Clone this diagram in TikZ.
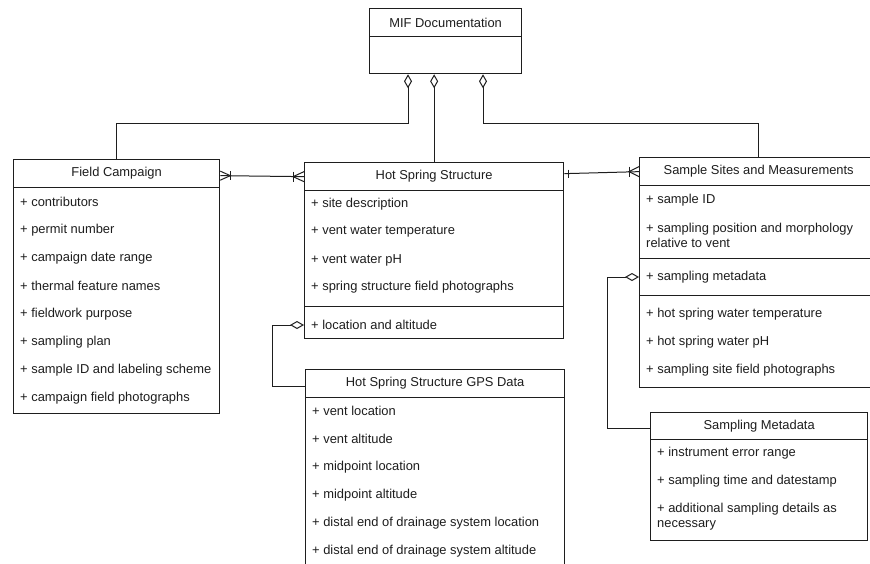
\documentclass[tikz,border=0pt]{standalone}
\usepackage{fontspec}
\setmainfont{Liberation Sans}
\usetikzlibrary{arrows.meta,calc}
\definecolor{lc}{HTML}{1E1E1E}
\definecolor{tc}{HTML}{1E1E1E}
\newcommand\dfont{\fontsize{12.9}{15}\selectfont}
\begin{document}
\begin{tikzpicture}[x=1pt,y=-1pt,
  box/.style={draw=lc, line width=1.3pt, inner sep=0pt, anchor=north west},
  hdr/.style={box, font=\dfont, text=tc},
  item/.style={anchor=west, inner sep=0pt, font=\dfont, text=tc, align=left},
  conn/.style={draw=lc, line width=1pt},
  agg/.style={conn, {Diamond[open, length=14pt, width=8pt]}-},
]
\fill[white] (0,0) rectangle (870,563);
\useasboundingbox (0,0) rectangle (870,563);

% MIF Documentation
\node[hdr, minimum width=152pt, minimum height=28pt] (mifh) at (369,8) {MIF Documentation};
\node[box, minimum width=152pt, minimum height=37pt] (mifb) at (369,36) {};

% Field Campaign
\node[hdr, minimum width=206pt, minimum height=28pt] (fch) at (13,159) {Field Campaign};
\node[box, minimum width=206pt, minimum height=226pt] (fcb) at (13,187) {};
\node[item] (fc1) at (20,202) {+ contributors};
\node[item] (fc2) at (20,230) {+ permit number};
\node[item] (fc3) at (20,258) {+ campaign date range};
\node[item] (fc4) at (20,286) {+ thermal feature names};
\node[item] (fc5) at (20,314) {+ fieldwork purpose};
\node[item] (fc6) at (20,342) {+ sampling plan};
\node[item] (fc7) at (20,370) {+ sample ID and labeling scheme};
\node[item] (fc8) at (20,398) {+ campaign field photographs};

% Hot Spring Structure
\node[hdr, minimum width=259pt, minimum height=28pt] (hsh) at (304,162) {Hot Spring Structure};
\node[box, minimum width=259pt, minimum height=116pt] (hsb1) at (304,190) {};
\node[box, minimum width=259pt, minimum height=32pt] (hsb2) at (304,306) {};
\node[item] (hs1) at (311,204) {+ site description};
\node[item] (hs2) at (311,232) {+ vent water temperature};
\node[item] (hs3) at (311,260) {+ vent water pH};
\node[item] (hs4) at (311,287) {+ spring structure field photographs};
\node[item] (hsloc) at (311,325) {+ location and altitude};

% Hot Spring Structure GPS Data
\node[hdr, minimum width=259pt, minimum height=28pt] (gpsh) at (305,369) {Hot Spring Structure GPS Data};
\node[box, minimum width=259pt, minimum height=200pt] (gpsb) at (305,397) {};
\node[item] (g1) at (312,411) {+ vent location};
\node[item] (g2) at (312,439) {+ vent altitude};
\node[item] (g3) at (312,467) {+ midpoint location};
\node[item] (g4) at (312,495) {+ midpoint altitude};
\node[item] (g5) at (312,523) {+ distal end of drainage system location};
\node[item] (g6) at (312,551) {+ distal end of drainage system altitude};

% Sample Sites and Measurements
\node[hdr, minimum width=238pt, minimum height=28pt] (ssh) at (639,157) {Sample Sites and Measurements};
\node[box, minimum width=238pt, minimum height=73pt] (ssb1) at (639,185) {};
\node[box, minimum width=238pt, minimum height=37pt] (ssb2) at (639,258) {};
\node[box, minimum width=238pt, minimum height=92pt] (ssb3) at (639,295) {};
\node[item] (s1) at (646,200) {+ sample ID};
\node[item] (s2) at (646,235.5) {+ sampling position and morphology\\relative to vent};
\node[item] (smeta) at (646,277) {+ sampling metadata};
\node[item] (s4) at (646,314) {+ hot spring water temperature};
\node[item] (s5) at (646,342) {+ hot spring water pH};
\node[item] (s6) at (646,370) {+ sampling site field photographs};

% Sampling Metadata
\node[hdr, minimum width=217pt, minimum height=27pt] (smh) at (650,412) {Sampling Metadata};
\node[box, minimum width=217pt, minimum height=101pt] (smb) at (650,439) {};
\node[item] (m1) at (657,453) {+ instrument error range};
\node[item] (m2) at (657,481) {+ sampling time and datestamp};
\node[item] (m3) at (657,516.5) {+ additional sampling details as\\necessary};

% aggregation connectors from MIF Documentation
\draw[agg] ($(mifb.south west)+(39,0)$) -- ++(0,49) -| (fch.north);
\draw[agg] (hsh.north |- mifb.south) -- (hsh.north);
\draw[agg] ($(mifb.south west)+(114,0)$) -- ++(0,49) -| (ssh.north);

% aggregation: Hot Spring Structure -> GPS Data
\draw[agg] (hsb2.west |- hsloc.west) -- ++(-32,0) |- ($(gpsh.west)+(0,3)$);
% aggregation: Sample Sites -> Sampling Metadata
\draw[agg] (ssb2.west |- smeta.west) -- ++(-32,0) |- ($(smh.west)+(0,2.5)$);

% Field Campaign -- Hot Spring Structure (one or many on both ends)
\coordinate (e1) at ($(fch.east)+(0,2)$);
\coordinate (e2) at ($(hsh.west)+(0,0)$);
\draw[conn] (e1) -- (e2);
\draw[conn] ($(e1)+(0,-4.5)$) -- ($(e1)+(10,0)$) -- ($(e1)+(0,4.5)$);
\draw[conn] ($(e1)+(10,-4.5)$) -- ($(e1)+(10,4.5)$);
\draw[conn] ($(e2)+(0,-5)$) -- ($(e2)+(-11,0)$) -- ($(e2)+(0,5)$);
\draw[conn] ($(e2)+(-11,-5)$) -- ($(e2)+(-11,5)$);

% Hot Spring Structure -- Sample Sites (one to one or many)
\coordinate (e3) at ($(hsh.east)+(0,-3)$);
\coordinate (e4) at (ssh.west);
\draw[conn] (e3) -- (e4);
\draw[conn] ($(e3)+(4,-4)$) -- ($(e3)+(4,4)$);
\draw[conn] ($(e4)+(0,-5)$) -- ($(e4)+(-10,0)$) -- ($(e4)+(0,5)$);
\draw[conn] ($(e4)+(-10,-5)$) -- ($(e4)+(-10,5)$);
\end{tikzpicture}
\end{document}
